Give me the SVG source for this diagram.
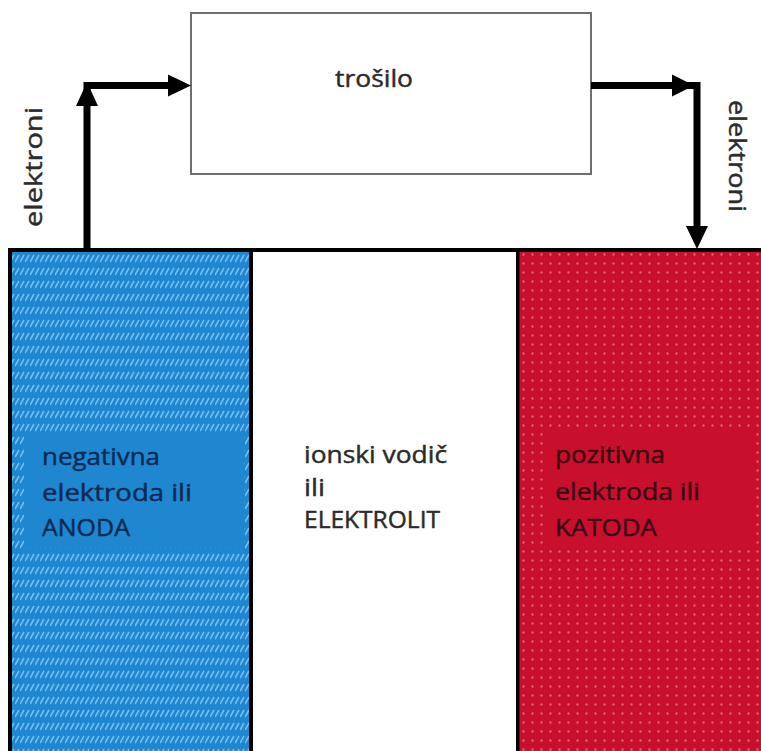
<svg xmlns="http://www.w3.org/2000/svg" width="761" height="751" viewBox="0 0 761 751">
<style>
.t{font-family:"Open Sans","Noto Sans","Liberation Sans",sans-serif;font-size:24px;stroke-width:0.45px}
.dark{fill:#2b2b2b;stroke:#2b2b2b}
.navy{fill:#0d2a55;stroke:#0d2a55}
.maroon{fill:#3a0a12;stroke:#3a0a12}
.conn{stroke:#000;stroke-width:7;fill:none}
.head{fill:#000}
</style>
<defs>
<pattern id="stripes" x="0" y="252" width="5" height="13" patternUnits="userSpaceOnUse">
<rect width="5" height="13" fill="#1f87cf"/>
<path d="M0,10 L4,3" stroke="#72c0f2" stroke-width="1.6"/>
</pattern>
<pattern id="dots" x="519" y="250" width="9" height="9" patternUnits="userSpaceOnUse">
<rect width="9" height="9" fill="#c8102e"/>
<circle cx="4.5" cy="4.5" r="1.2" fill="#e4587a"/>
</pattern>
</defs>
<rect width="761" height="751" fill="#ffffff"/>
<g id="trosilo">
<rect x="191" y="13" width="400" height="161" fill="#ffffff" stroke="#6e6e6e" stroke-width="2"/>
<text class="t dark" x="335" y="87" font-size="26" textLength="78" lengthAdjust="spacingAndGlyphs">trošilo</text>
</g>
<g id="anoda">
<rect x="10" y="250" width="241" height="501" fill="url(#stripes)"/>
<rect x="24" y="432" width="220" height="116" fill="#1f87cf"/>
<text class="t navy" x="42" y="465" textLength="118" lengthAdjust="spacingAndGlyphs">negativna</text>
<text class="t navy" x="42" y="501" textLength="150" lengthAdjust="spacingAndGlyphs">elektroda ili</text>
<text class="t navy" x="42" y="536" textLength="88" lengthAdjust="spacingAndGlyphs">ANODA</text>
</g>
<g id="elektrolit">
<rect x="251" y="250" width="267" height="501" fill="#ffffff"/>
<text class="t dark" x="304" y="463" textLength="143" lengthAdjust="spacingAndGlyphs">ionski vodič</text>
<text class="t dark" x="304" y="496" textLength="21" lengthAdjust="spacingAndGlyphs">ili</text>
<text class="t dark" x="304" y="528" textLength="136" lengthAdjust="spacingAndGlyphs">ELEKTROLIT</text>
</g>
<g id="katoda">
<rect x="519" y="250" width="242" height="501" fill="url(#dots)"/>
<rect x="547" y="432" width="204" height="116" fill="#c8102e"/>
<text class="t maroon" x="555" y="463" textLength="110" lengthAdjust="spacingAndGlyphs">pozitivna</text>
<text class="t maroon" x="555" y="500" textLength="145" lengthAdjust="spacingAndGlyphs">elektroda ili</text>
<text class="t maroon" x="555" y="536" textLength="102" lengthAdjust="spacingAndGlyphs">KATODA</text>
</g>
<g id="borders" fill="#000">
<rect x="8" y="248" width="753" height="4"/>
<rect x="8" y="248" width="4" height="503"/>
<rect x="249" y="248" width="4" height="503"/>
<rect x="516" y="248" width="3.5" height="503"/>
</g>
<g id="labels">
<text class="t dark" transform="translate(42,227) rotate(-90)" textLength="120" lengthAdjust="spacingAndGlyphs">elektroni</text>
<text class="t dark" transform="translate(729,100) rotate(90)" textLength="112" lengthAdjust="spacingAndGlyphs">elektroni</text>
</g>
<g id="connectors">
<path class="conn" d="M87,250 L87,85.5 L172,85.5"/>
<polygon class="head" points="87,82 76,106 98,106"/>
<polygon class="head" points="191,85.5 168,74.5 168,96.5"/>
<path class="conn" d="M591,85.5 L697,85.5 L697,230"/>
<polygon class="head" points="694,85.5 672,74.5 672,96.5"/>
<polygon class="head" points="697,249 686,226 708,226"/>
</g>
</svg>
